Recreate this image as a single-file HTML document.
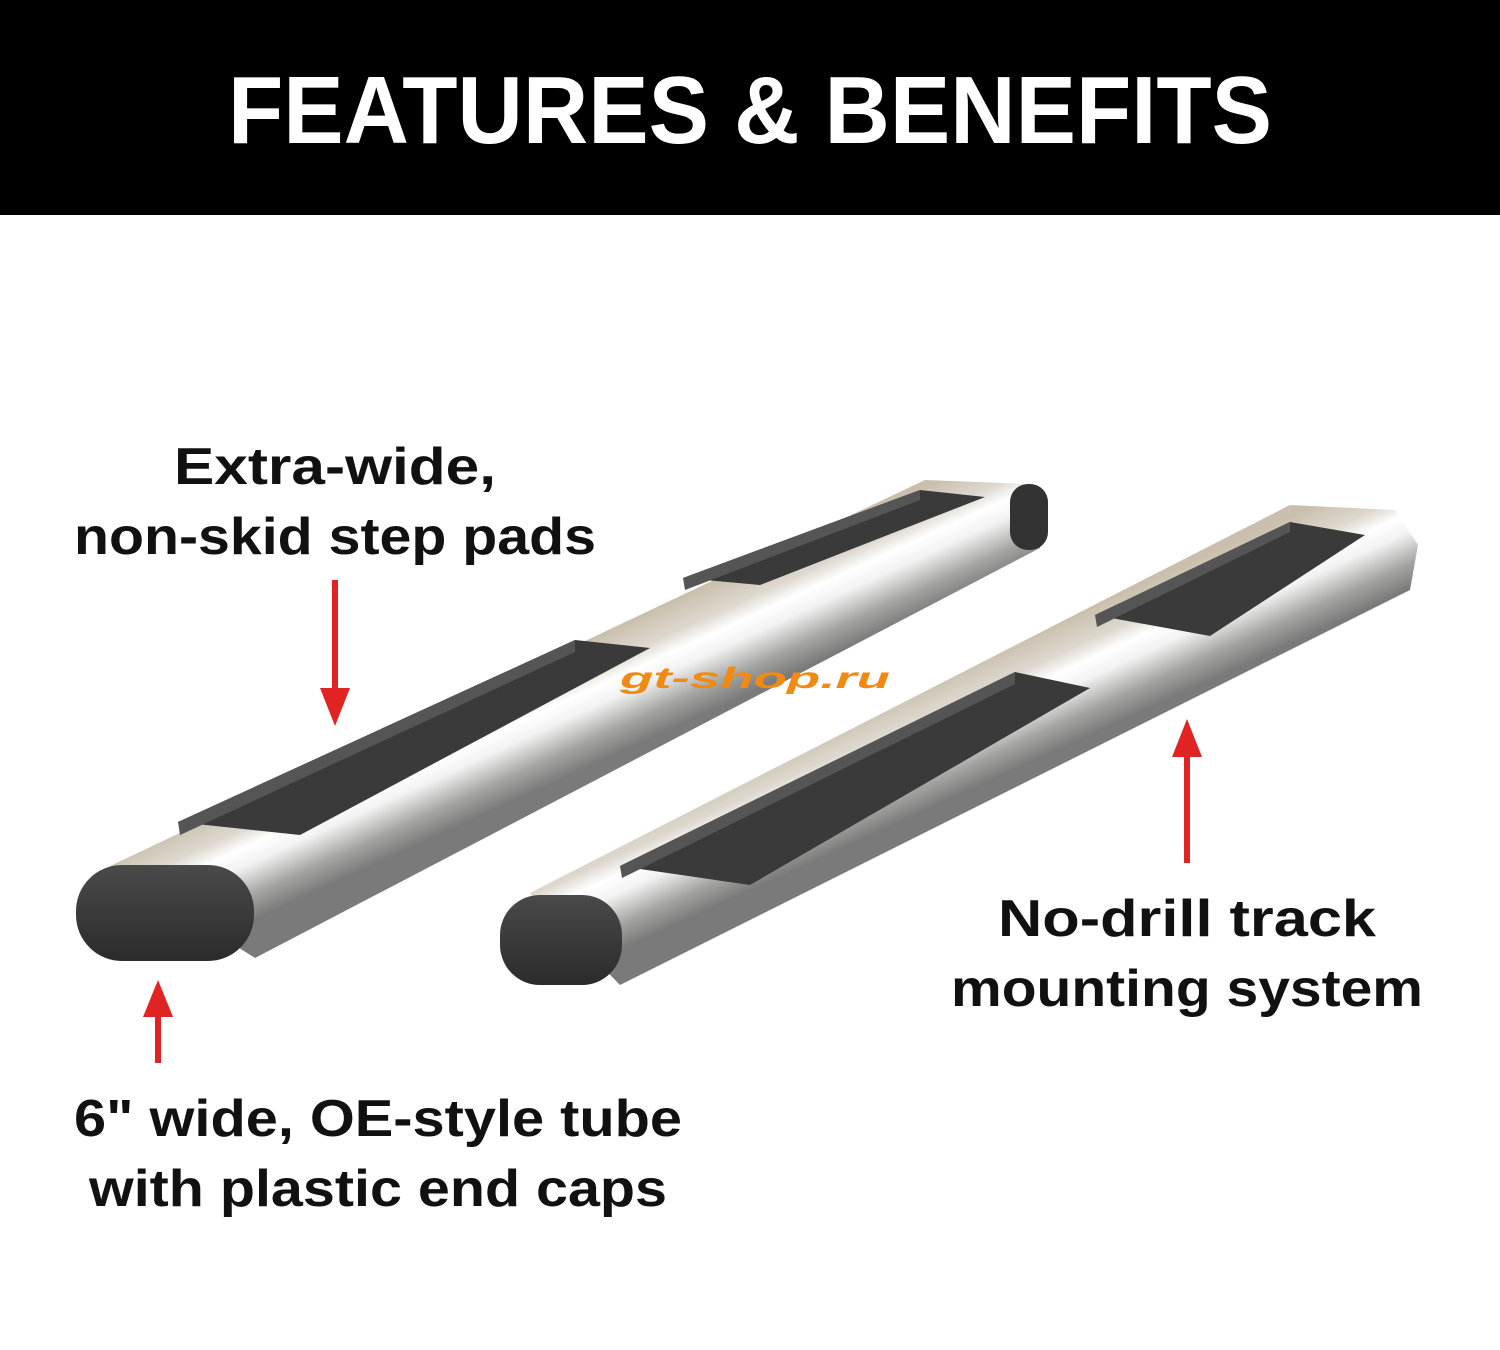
<!DOCTYPE html>
<html><head><meta charset="utf-8"><style>
html,body{margin:0;padding:0;background:#fff;width:1500px;height:1350px;overflow:hidden}
</style></head><body>
<svg width="1500" height="1350" viewBox="0 0 1500 1350" xmlns="http://www.w3.org/2000/svg" font-family="Liberation Sans, sans-serif" font-weight="bold">
<defs>
<linearGradient id="tubeL" gradientUnits="userSpaceOnUse" x1="500" y1="680" x2="548" y2="785">
<stop offset="0" stop-color="#c9bfac"/><stop offset="0.25" stop-color="#ddd8cf"/><stop offset="0.4" stop-color="#ffffff"/><stop offset="0.55" stop-color="#f2f2f2"/><stop offset="0.8" stop-color="#a4a4a2"/><stop offset="1" stop-color="#7a7a7a"/>
</linearGradient>
<linearGradient id="tubeR" gradientUnits="userSpaceOnUse" x1="900" y1="695" x2="948" y2="800">
<stop offset="0" stop-color="#c9bfac"/><stop offset="0.25" stop-color="#ddd8cf"/><stop offset="0.4" stop-color="#ffffff"/><stop offset="0.55" stop-color="#f2f2f2"/><stop offset="0.8" stop-color="#a4a4a2"/><stop offset="1" stop-color="#7a7a7a"/>
</linearGradient>
<linearGradient id="cap" x1="0" y1="0" x2="0" y2="1"><stop offset="0" stop-color="#4a4a4a"/><stop offset="1" stop-color="#2b2b2b"/></linearGradient>
</defs>
<rect x="0" y="0" width="1500" height="215" fill="#000"/>
<text x="750" y="143" fill="#fff" font-size="96" text-anchor="middle" textLength="1044" lengthAdjust="spacingAndGlyphs">FEATURES &amp; BENEFITS</text>

<!-- left bar -->
<polygon points="110,866 925,480 1030,484 1046,515 1040,548 255,958" fill="url(#tubeL)"/>
<polygon points="178,822 575,640 650,648 300,835" fill="#3a3a3a"/>
<polygon points="178,822 575,640 575,652 180,835" fill="#555"/>
<polygon points="683,578 920,490 985,497 760,585" fill="#3a3a3a"/>
<polygon points="683,578 920,490 920,500 685,590" fill="#555"/>
<rect x="76" y="865" width="178" height="96" rx="46" fill="url(#cap)"/>
<rect x="1010" y="484" width="38" height="66" rx="18" fill="#333"/>

<!-- right bar -->
<polygon points="530,893 1290,505 1395,510 1418,545 1410,590 620,985" fill="url(#tubeR)"/>
<polygon points="620,866 1015,672 1090,688 750,885" fill="#3a3a3a"/>
<polygon points="620,866 1015,672 1015,684 622,878" fill="#555"/>
<polygon points="1095,615 1290,522 1365,535 1210,636" fill="#3a3a3a"/>
<polygon points="1095,615 1290,522 1290,532 1097,627" fill="#555"/>
<rect x="500" y="895" width="122" height="90" rx="40" fill="url(#cap)"/>

<text x="755" y="688" fill="#f08a12" font-size="30" font-style="italic" text-anchor="middle" textLength="270" lengthAdjust="spacingAndGlyphs">gt-shop.ru</text>

<!-- labels -->
<g fill="#111" font-size="52" text-anchor="middle">
<text x="335" y="484" textLength="322" lengthAdjust="spacingAndGlyphs">Extra-wide,</text>
<text x="335" y="554" textLength="522" lengthAdjust="spacingAndGlyphs">non-skid step pads</text>
<text x="1187" y="936" textLength="378" lengthAdjust="spacingAndGlyphs">No-drill track</text>
<text x="1187" y="1006" textLength="472" lengthAdjust="spacingAndGlyphs">mounting system</text>
<text x="378" y="1136" textLength="608" lengthAdjust="spacingAndGlyphs">6" wide, OE-style tube</text>
<text x="378" y="1206" textLength="578" lengthAdjust="spacingAndGlyphs">with plastic end caps</text>
</g>

<!-- arrows -->
<g fill="#e02424">
<rect x="332" y="580" width="6" height="110"/><polygon points="320,688 350,688 335,726"/>
<rect x="1184" y="755" width="6" height="108"/><polygon points="1172,757 1202,757 1187,719"/>
<rect x="155" y="1015" width="6" height="48"/><polygon points="143,1017 173,1017 158,980"/>
</g>
</svg>
</body></html>
